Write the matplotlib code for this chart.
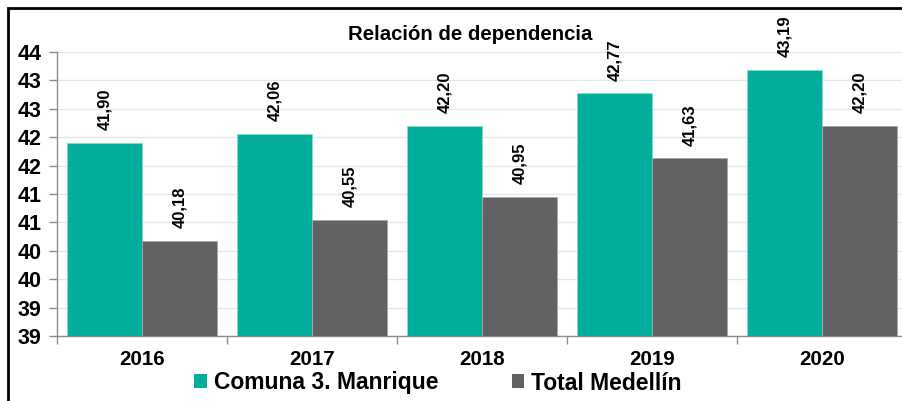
import math
import matplotlib
matplotlib.use('Agg')
import matplotlib.pyplot as plt
import numpy as np
from matplotlib.patches import Rectangle, Patch
from matplotlib.ticker import FuncFormatter, FixedLocator

plt.rcParams['font.family'] = ['Liberation Sans', 'DejaVu Sans']
plt.rcParams['font.weight'] = 'bold'

years = ['2016', '2017', '2018', '2019', '2020']
comuna = [41.90, 42.06, 42.20, 42.77, 43.19]
medellin = [40.18, 40.55, 40.95, 41.63, 42.20]
series_names = ['Comuna 3. Manrique', 'Total Medellín']
title = 'Relación de dependencia'

teal = '#00AE9B'
gray = '#626164'

W, H = 903, 401
fig = plt.figure(figsize=(W / 100, H / 100), dpi=100)
ax = fig.add_axes([57 / W, 1 - 336 / H, (907 - 57) / W, (336 - 52) / H])

x = np.arange(len(years))
bw = 0.44
b1 = ax.bar(x - bw / 2, comuna, bw, color=teal, edgecolor='#8ED9D0', linewidth=0.6, zorder=3)
b2 = ax.bar(x + bw / 2, medellin, bw, color=gray, edgecolor='#A8A8A8', linewidth=0.6, zorder=3)

for bars, vals in ((b1, comuna), (b2, medellin)):
    for r, v in zip(bars, vals):
        ax.annotate(f'{v:.2f}'.replace('.', ','), (r.get_x() + r.get_width() / 2, v),
                    xytext=(0, 9), textcoords='offset points', rotation=90,
                    ha='center', va='bottom', fontsize=12, fontweight='bold')

ax.set_xlim(-0.5, len(years) - 0.5)
ax.set_ylim(38.5, 43.5)
ax.yaxis.set_major_locator(FixedLocator(np.arange(38.5, 43.51, 0.5)))
ax.yaxis.set_major_formatter(FuncFormatter(lambda v, p: str(int(math.floor(v + 0.5)))))
ax.grid(axis='y', color='#DCE8EC', linewidth=1, zorder=0)

ax.set_xticks(x)
ax.set_xticklabels(years)
ax.set_xticks(np.arange(-0.5, len(years)), minor=True)
ax.tick_params(axis='x', which='major', length=0, pad=10, labelsize=14.8)
ax.tick_params(axis='x', which='minor', length=6, color='#8C8C8C', width=1)
ax.tick_params(axis='y', length=6, color='#8C8C8C', width=1, labelsize=15.5, pad=5)
for lab in ax.get_xticklabels() + ax.get_yticklabels():
    lab.set_fontweight('bold')

for s in ['top', 'right']:
    ax.spines[s].set_visible(False)
for s in ['left', 'bottom']:
    ax.spines[s].set_color('#8C8C8C')
    ax.spines[s].set_linewidth(1)

fig.text(470 / W, 1 - 34 / H, title, ha='center', va='center', fontsize=14.7, fontweight='bold')

handles = [Patch(facecolor=teal), Patch(facecolor=gray)]
fig.legend(handles, series_names, loc='center', bbox_to_anchor=(438 / W, 1 - 383 / H),
           ncol=2, frameon=False, prop={'size': 16.5, 'weight': 'bold'},
           handlelength=0.55, handleheight=0.55, handletextpad=0.3, columnspacing=3.2,
           borderpad=0, borderaxespad=0)

fig.patches.append(Rectangle((8 / W, -0.1), 1.2, 1.1 - 8 / H, transform=fig.transFigure,
                             fill=False, edgecolor='black', linewidth=2))

fig.savefig('out.png', dpi=100)
